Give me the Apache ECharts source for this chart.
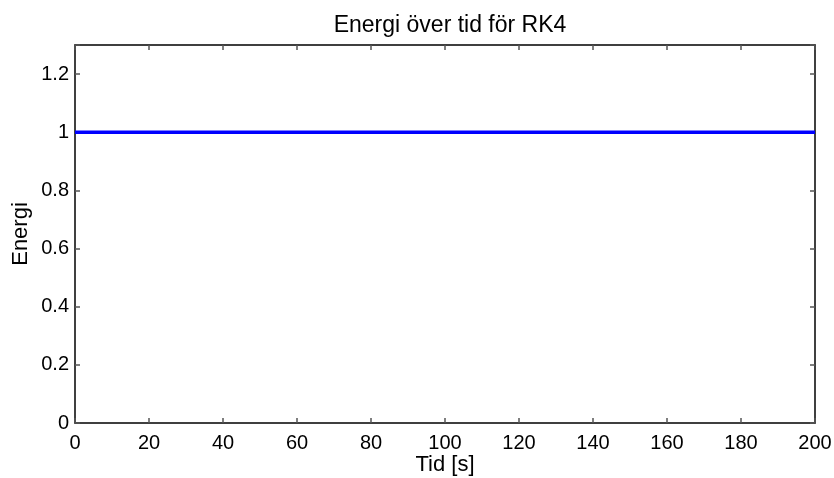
<!DOCTYPE html>
<html><head><meta charset="utf-8">
<script src="https://cdn.jsdelivr.net/npm/echarts@6/dist/echarts.min.js"></script>
<style>html,body{margin:0;padding:0;background:#fff}#c{width:834px;height:478px}</style>
</head><body><div id="c"></div>
<script>
const titleText = "Energi över tid för RK4";
const xName = "Tid [s]";
const yName = "Energi";
const timeValues = [0,10,20,30,40,50,60,70,80,90,100,110,120,130,140,150,160,170,180,190,200];
const energyValues = [1,1,1,1,1,1,1,1,1,1,1,1,1,1,1,1,1,1,1,1,1];
const xTicks = [0,20,40,60,80,100,120,140,160,180,200];
const yTicks = [0,0.2,0.4,0.6,0.8,1,1.2];

const font = "'Liberation Sans', Arial, Helvetica, sans-serif";
const chart = echarts.init(document.getElementById('c'));
const axisLine = {show:true, onZero:false, lineStyle:{color:'#000', width:1.5}};
const tick = {show:true, inside:true, length:5, lineStyle:{color:'#555', width:1.5}};
const lbl = {color:'#000', fontSize:20, fontFamily:font};
chart.setOption({
  animation:false,
  title:{text:titleText, left:445, textAlign:'center', top:9, textStyle:{fontSize:23, fontWeight:'normal', color:'#000', fontFamily:font}},
  grid:{left:75, right:19, top:45, bottom:55, show:false, containLabel:false, outerBoundsMode:'none'},
  xAxis:[
    {type:'value', min:0, max:200, interval:20, name:xName, nameLocation:'middle', nameGap:31, nameMoveOverlap:false,
     nameTextStyle:{fontSize:22, color:'#000', fontFamily:font},
     axisLine:axisLine, axisTick:tick, splitLine:{show:false},
     axisLabel:Object.assign({margin:10, formatter:v=>xTicks.includes(v)?String(v):''}, lbl)},
    {type:'value', min:0, max:200, interval:20, position:'top', axisLine:axisLine, axisTick:tick, axisLabel:{show:false}, splitLine:{show:false}}
  ],
  yAxis:[
    {type:'value', min:0, max:1.3, interval:0.2, name:yName, nameLocation:'middle', nameGap:43, nameMoveOverlap:false,
     nameTextStyle:{fontSize:22, color:'#000', fontFamily:font},
     axisLine:axisLine, axisTick:tick, splitLine:{show:false},
     axisLabel:Object.assign({margin:6, formatter:v=>{const t=yTicks.find(y=>Math.abs(y-v)<1e-9);return t===undefined?'':String(t);}}, lbl)},
    {type:'value', min:0, max:1.3, interval:0.2, position:'right', axisLine:axisLine, axisTick:tick, axisLabel:{show:false}, splitLine:{show:false}}
  ],
  series:[{type:'line', data:timeValues.map((t,i)=>[t,energyValues[i]]), showSymbol:false, lineStyle:{color:'#0000ff', width:3.5}, clip:true}]
});
</script></body></html>
